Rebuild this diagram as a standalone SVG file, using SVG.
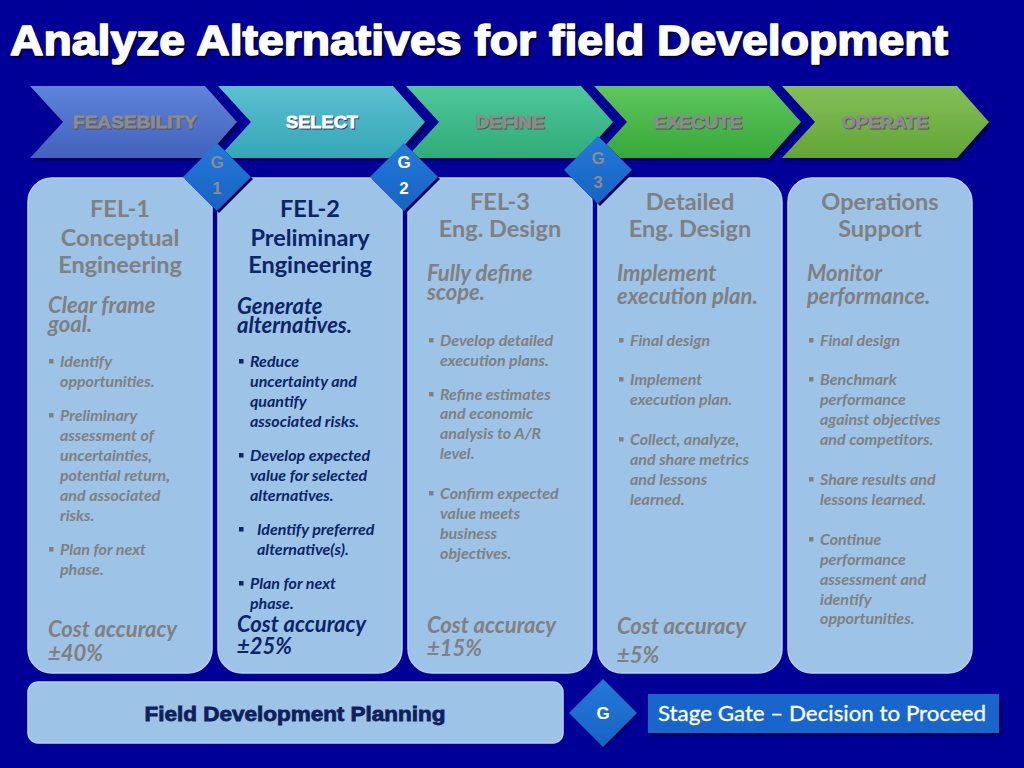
<svg xmlns="http://www.w3.org/2000/svg" width="1024" height="768" viewBox="0 0 1024 768">
<defs>
<linearGradient id="c1" x1="0" y1="0" x2="0" y2="1"><stop offset="0" stop-color="#5f84d8"/><stop offset="1" stop-color="#4262bd"/></linearGradient>
<linearGradient id="c2" x1="0" y1="0" x2="0" y2="1"><stop offset="0" stop-color="#5cc0d0"/><stop offset="1" stop-color="#34a6b6"/></linearGradient>
<linearGradient id="c3" x1="0" y1="0" x2="0" y2="1"><stop offset="0" stop-color="#4fc79a"/><stop offset="1" stop-color="#2fab78"/></linearGradient>
<linearGradient id="c4" x1="0" y1="0" x2="0" y2="1"><stop offset="0" stop-color="#5ec65c"/><stop offset="1" stop-color="#37a83a"/></linearGradient>
<linearGradient id="c5" x1="0" y1="0" x2="0" y2="1"><stop offset="0" stop-color="#84bf58"/><stop offset="1" stop-color="#62a535"/></linearGradient>
<linearGradient id="dg" x1="0" y1="0" x2="0" y2="1"><stop offset="0" stop-color="#2479d8"/><stop offset="1" stop-color="#1763c4"/></linearGradient>
<path id="chev" d="M0,0 H175 L207,36 L175,72 H0 L33,36 Z"/>
<path id="dia" d="M0,-34 L34,0 L0,34 L-34,0 Z"/>
<rect id="bul" x="0" y="-8" width="4.5" height="4.5"/>
<rect id="box" x="0" y="0" width="184" height="495" rx="24" ry="24"/>
</defs>
<style>
.title{font-family:"Liberation Sans",Arial,sans-serif;font-weight:bold;font-size:42px;stroke-width:1.6px;stroke-linejoin:round}
.chv{font-family:"Liberation Sans",Arial,sans-serif;font-weight:bold;font-size:17px;text-anchor:middle;stroke-width:0.8px}
.g{font-family:"Liberation Sans",Arial,sans-serif;font-weight:bold;font-size:17px;text-anchor:middle}
.h{font-family:Lato,"Open Sans",sans-serif;font-weight:bold;font-size:23.5px;text-anchor:middle}
.s{font-family:Lato,"Open Sans",sans-serif;font-weight:bold;font-style:italic;font-size:22px}
.b{font-family:Lato,"Open Sans",sans-serif;font-weight:bold;font-style:italic;font-size:16px}
.gray{fill:#808080}
.navy{fill:#0b2566}
.boxf{fill:#9dc3e6;stroke:#b4d2ee;stroke-width:1.5}
</style>
<rect x="0" y="0" width="1024" height="768" fill="#000099"/>

<g id="title">
<text class="title" x="12" y="57" fill="#000040" stroke="#000040" textLength="938" lengthAdjust="spacingAndGlyphs">Analyze Alternatives for field  Development</text>
<text class="title" x="10" y="55" fill="#ffffff" stroke="#ffffff" textLength="938" lengthAdjust="spacingAndGlyphs">Analyze Alternatives for field  Development</text>
</g>

<g id="chevrons">
<g id="chev-feasebility">
<use href="#chev" x="33" y="89" fill="#00005a"/>
<use href="#chev" x="30" y="86" fill="url(#c1)"/>
<text class="chv" x="136" y="129" fill="#555" stroke="#555" textLength="124" lengthAdjust="spacingAndGlyphs">FEASEBILITY</text>
<text class="chv" x="135" y="128" fill="#8c8c8c" stroke="#8c8c8c" textLength="124" lengthAdjust="spacingAndGlyphs">FEASEBILITY</text>
</g>
<g id="chev-select">
<use href="#chev" x="221" y="89" fill="#00005a"/>
<use href="#chev" x="218" y="86" fill="url(#c2)"/>
<text class="chv" x="323" y="129" fill="#336" stroke="#336" textLength="72" lengthAdjust="spacingAndGlyphs">SELECT</text>
<text class="chv" x="322" y="128" fill="#ffffff" stroke="#ffffff" textLength="72" lengthAdjust="spacingAndGlyphs">SELECT</text>
</g>
<g id="chev-define">
<use href="#chev" x="409" y="89" fill="#00005a"/>
<use href="#chev" x="406" y="86" fill="url(#c3)"/>
<text class="chv" x="511" y="129" fill="#555" stroke="#555" textLength="69" lengthAdjust="spacingAndGlyphs">DEFINE</text>
<text class="chv" x="510" y="128" fill="#8c8c8c" stroke="#8c8c8c" textLength="69" lengthAdjust="spacingAndGlyphs">DEFINE</text>
</g>
<g id="chev-execute">
<use href="#chev" x="597" y="89" fill="#00005a"/>
<use href="#chev" x="594" y="86" fill="url(#c4)"/>
<text class="chv" x="699" y="129" fill="#555" stroke="#555" textLength="88" lengthAdjust="spacingAndGlyphs">EXECUTE</text>
<text class="chv" x="698" y="128" fill="#8c8c8c" stroke="#8c8c8c" textLength="88" lengthAdjust="spacingAndGlyphs">EXECUTE</text>
</g>
<g id="chev-operate">
<use href="#chev" x="785" y="89" fill="#00005a"/>
<use href="#chev" x="782" y="86" fill="url(#c5)"/>
<text class="chv" x="886" y="129" fill="#555" stroke="#555" textLength="87" lengthAdjust="spacingAndGlyphs">OPERATE</text>
<text class="chv" x="885" y="128" fill="#8c8c8c" stroke="#8c8c8c" textLength="87" lengthAdjust="spacingAndGlyphs">OPERATE</text>
</g>
</g>

<g id="fel1">
<use href="#box" x="28" y="178" class="boxf"/>
<g class="gray">
<text class="h" x="120" y="217">FEL-1</text>
<text class="h" x="120" y="246">Conceptual</text>
<text class="h" x="120" y="273">Engineering</text>
<text class="s" x="48" y="313">Clear frame</text>
<text class="s" x="48" y="332">goal.</text>
<use href="#bul" x="49" y="367"/>
<text class="b" x="60" y="367">Identify</text>
<text class="b" x="60" y="387">opportunities.</text>
<use href="#bul" x="49" y="421"/>
<text class="b" x="60" y="421">Preliminary</text>
<text class="b" x="60" y="441">assessment of</text>
<text class="b" x="60" y="461">uncertainties,</text>
<text class="b" x="60" y="481">potential return,</text>
<text class="b" x="60" y="501">and associated</text>
<text class="b" x="60" y="521">risks.</text>
<use href="#bul" x="49" y="555"/>
<text class="b" x="60" y="555">Plan for next</text>
<text class="b" x="60" y="575">phase.</text>
<text class="s" x="48" y="637">Cost accuracy</text>
<text class="s" x="48" y="661">±40%</text>
</g>
</g>

<g id="fel2">
<use href="#box" x="218" y="178" class="boxf"/>
<g class="navy">
<text class="h" x="310" y="217">FEL-2</text>
<text class="h" x="310" y="246">Preliminary</text>
<text class="h" x="310" y="273">Engineering</text>
<text class="s" x="237" y="314">Generate</text>
<text class="s" x="237" y="333">alternatives.</text>
<use href="#bul" x="239" y="367"/>
<text class="b" x="250" y="367">Reduce</text>
<text class="b" x="250" y="387">uncertainty and</text>
<text class="b" x="250" y="407">quantify</text>
<text class="b" x="250" y="427">associated risks.</text>
<use href="#bul" x="239" y="461"/>
<text class="b" x="250" y="461">Develop expected</text>
<text class="b" x="250" y="481">value for selected</text>
<text class="b" x="250" y="501">alternatives.</text>
<use href="#bul" x="239" y="535"/>
<text class="b" x="257" y="535">Identify preferred</text>
<text class="b" x="257" y="555">alternative(s).</text>
<use href="#bul" x="239" y="589"/>
<text class="b" x="250" y="589">Plan for next</text>
<text class="b" x="250" y="609">phase.</text>
<text class="s" x="237" y="632">Cost accuracy</text>
<text class="s" x="237" y="654">±25%</text>
</g>
</g>

<g id="fel3">
<use href="#box" x="408" y="178" class="boxf"/>
<g class="gray">
<text class="h" x="500" y="210">FEL-3</text>
<text class="h" x="500" y="237">Eng. Design</text>
<text class="s" x="427" y="281">Fully define</text>
<text class="s" x="427" y="300">scope.</text>
<use href="#bul" x="429" y="346"/>
<text class="b" x="440" y="346">Develop detailed</text>
<text class="b" x="440" y="366">execution plans.</text>
<use href="#bul" x="429" y="400"/>
<text class="b" x="440" y="400">Refine estimates</text>
<text class="b" x="440" y="419">and economic</text>
<text class="b" x="440" y="439">analysis to A/R</text>
<text class="b" x="440" y="459">level.</text>
<use href="#bul" x="429" y="499"/>
<text class="b" x="440" y="499">Confirm expected</text>
<text class="b" x="440" y="519">value meets</text>
<text class="b" x="440" y="539">business</text>
<text class="b" x="440" y="559">objectives.</text>
<text class="s" x="427" y="633">Cost accuracy</text>
<text class="s" x="427" y="656">±15%</text>
</g>
</g>

<g id="detailed">
<use href="#box" x="598" y="178" class="boxf"/>
<g class="gray">
<text class="h" x="690" y="210">Detailed</text>
<text class="h" x="690" y="237">Eng. Design</text>
<text class="s" x="617" y="281">Implement</text>
<text class="s" x="617" y="304">execution plan.</text>
<use href="#bul" x="619" y="346"/>
<text class="b" x="630" y="346">Final design</text>
<use href="#bul" x="619" y="385"/>
<text class="b" x="630" y="385">Implement</text>
<text class="b" x="630" y="405">execution plan.</text>
<use href="#bul" x="619" y="445"/>
<text class="b" x="630" y="445">Collect, analyze,</text>
<text class="b" x="630" y="465">and share metrics</text>
<text class="b" x="630" y="485">and lessons</text>
<text class="b" x="630" y="505">learned.</text>
<text class="s" x="617" y="634">Cost accuracy</text>
<text class="s" x="617" y="663">±5%</text>
</g>
</g>

<g id="operations">
<use href="#box" x="788" y="178" class="boxf"/>
<g class="gray">
<text class="h" x="880" y="210">Operations</text>
<text class="h" x="880" y="237">Support</text>
<text class="s" x="807" y="281">Monitor</text>
<text class="s" x="807" y="304">performance.</text>
<use href="#bul" x="809" y="346"/>
<text class="b" x="820" y="346">Final design</text>
<use href="#bul" x="809" y="385"/>
<text class="b" x="820" y="385">Benchmark</text>
<text class="b" x="820" y="405">performance</text>
<text class="b" x="820" y="425">against objectives</text>
<text class="b" x="820" y="445">and competitors.</text>
<use href="#bul" x="809" y="485"/>
<text class="b" x="820" y="485">Share results and</text>
<text class="b" x="820" y="505">lessons learned.</text>
<use href="#bul" x="809" y="545"/>
<text class="b" x="820" y="545">Continue</text>
<text class="b" x="820" y="565">performance</text>
<text class="b" x="820" y="585">assessment and</text>
<text class="b" x="820" y="605">identify</text>
<text class="b" x="820" y="624">opportunities.</text>
</g>
</g>

<g id="gate1">
<use href="#dia" x="219" y="179" fill="#00005a"/>
<use href="#dia" x="217" y="177" fill="url(#dg)"/>
<text class="g" x="217" y="168" fill="#8c8c8c">G</text>
<text class="g" x="217" y="194" fill="#8c8c8c">1</text>
</g>
<g id="gate2">
<use href="#dia" x="406" y="179" fill="#00005a"/>
<use href="#dia" x="404" y="177" fill="url(#dg)"/>
<text class="g" x="404" y="168" fill="#ffffff">G</text>
<text class="g" x="404" y="194" fill="#ffffff">2</text>
</g>
<g id="gate3">
<use href="#dia" x="600" y="172" fill="#00005a"/>
<use href="#dia" x="598" y="170" fill="url(#dg)"/>
<text class="g" x="598" y="164" fill="#8c8c8c">G</text>
<text class="g" x="598" y="188" fill="#8c8c8c">3</text>
</g>

<g id="fdp">
<rect x="28" y="682" width="535" height="61" rx="10" ry="10" class="boxf"/>
<text x="295" y="721" font-family="'Liberation Sans',Arial,sans-serif" font-weight="bold" font-size="20" fill="#0f1f5c" stroke="#0f1f5c" stroke-width="0.8" text-anchor="middle" textLength="301" lengthAdjust="spacingAndGlyphs">Field Development Planning</text>
</g>

<g id="gate-legend">
<use href="#dia" x="605" y="715" fill="#00005a"/>
<use href="#dia" x="603" y="713" fill="url(#dg)"/>
<text class="g" x="603" y="719" fill="#ffffff">G</text>
</g>

<g id="stage-gate">
<rect x="651" y="697" width="351" height="39" fill="#00005a"/>
<rect x="648" y="694" width="351" height="39" fill="#1866cc"/>
<text x="822" y="721" font-family="Lato,'Open Sans',sans-serif" font-size="21" fill="#ffffff" stroke="#ffffff" stroke-width="0.3" text-anchor="middle" textLength="328" lengthAdjust="spacingAndGlyphs">Stage Gate – Decision to Proceed</text>
</g>
</svg>
